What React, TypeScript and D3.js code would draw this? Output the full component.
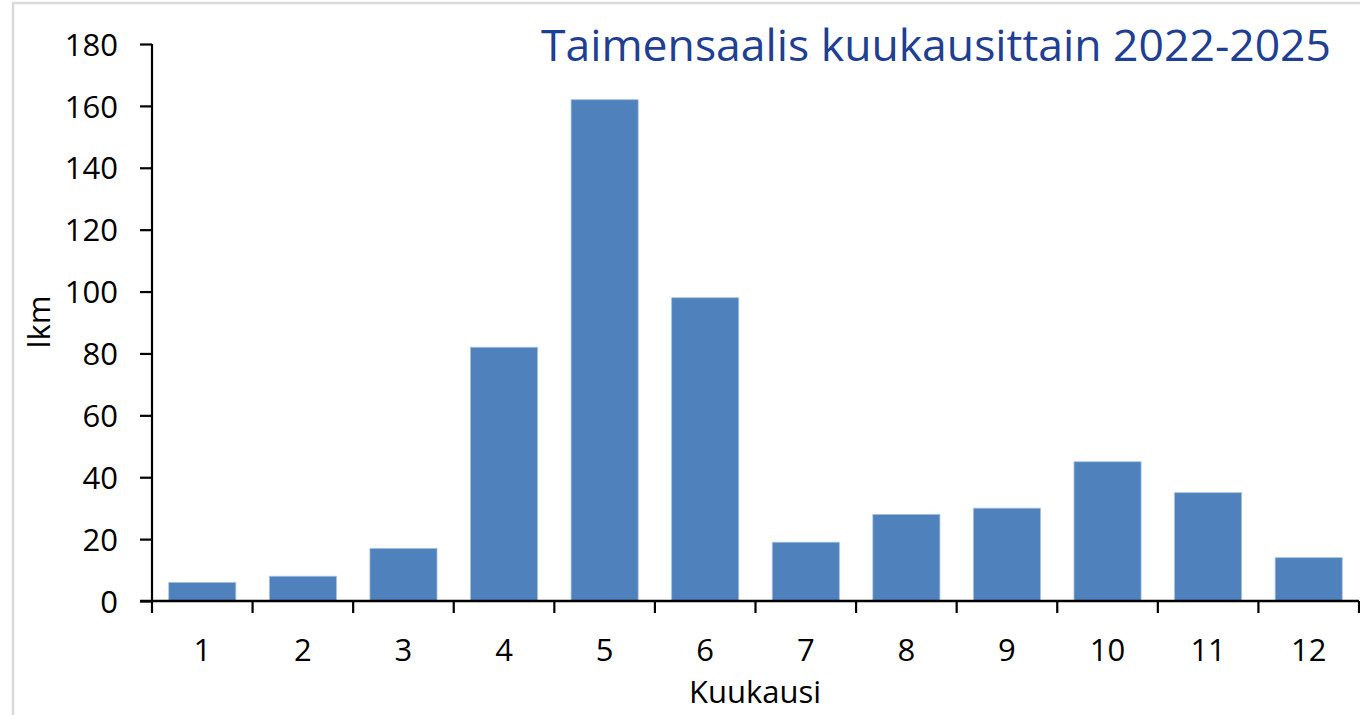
import React, { useEffect, useRef } from "react";
import * as d3 from "d3";

const months = ["1", "2", "3", "4", "5", "6", "7", "8", "9", "10", "11", "12"];
const catch_ = [6, 8, 17, 82, 162, 98, 19, 28, 30, 45, 35, 14];
const yTicks = [0, 20, 40, 60, 80, 100, 120, 140, 160, 180];

const App = () => {
  const ref = useRef<SVGSVGElement>(null);

  useEffect(() => {
    const width = 1360,
      height = 715,
      left = 152,
      right = 1359,
      top = 44,
      bottom = 601,
      font = "'Open Sans', sans-serif";

    const svg = d3.select(ref.current);
    svg.selectAll("*").remove();

    // chart area border
    svg
      .append("rect")
      .attr("x", 13)
      .attr("y", 3)
      .attr("width", width + 10)
      .attr("height", height + 10)
      .attr("fill", "white")
      .attr("stroke", "#d9d9d9")
      .attr("stroke-width", 2.5);

    const x = d3.scaleBand().domain(months).range([left, right]).paddingInner(0.333).paddingOuter(0.1665);
    const y = d3.scaleLinear().domain([0, 180]).range([bottom, top]);

    svg
      .selectAll("rect.bar")
      .data(catch_)
      .enter()
      .append("rect")
      .attr("class", "bar")
      .attr("x", (d, i) => x(months[i]))
      .attr("y", d => y(d))
      .attr("width", x.bandwidth())
      .attr("height", d => y(0) - y(d))
      .attr("fill", "#4f81bd")
      .attr("stroke", "#a7c0e0")
      .attr("stroke-width", 0.8);

    // y axis
    const yAxis = d3.axisLeft(y).tickValues(yTicks).tickSize(12).tickPadding(22);
    const gy = svg.append("g").attr("transform", `translate(${left},0)`).call(yAxis);
    gy.select(".domain").attr("stroke", "#000").attr("stroke-width", 2.2).attr("d", `M0,${top}V${bottom}`);
    gy.selectAll(".tick line").attr("stroke", "#000").attr("stroke-width", 2.2);
    gy.selectAll(".tick text")
      .attr("font-family", font)
      .attr("font-size", 31)
      .attr("fill", "#000")
      .attr("dy", "0.36em");

    // x axis
    const step = x.step();
    const bounds = d3.range(13).map(i => left + i * step);
    const gx = svg.append("g");
    gx.append("path")
      .attr("d", `M${left - 12},${bottom}H${right}`)
      .attr("stroke", "#000")
      .attr("stroke-width", 2.6);
    gx.selectAll("line.xt")
      .data(bounds)
      .enter()
      .append("line")
      .attr("class", "xt")
      .attr("x1", d => d)
      .attr("x2", d => d)
      .attr("y1", bottom)
      .attr("y2", bottom + 12)
      .attr("stroke", "#000")
      .attr("stroke-width", 2.2);
    gx.selectAll("text.xl")
      .data(months)
      .enter()
      .append("text")
      .attr("class", "xl")
      .attr("x", d => x(d)! + x.bandwidth() / 2)
      .attr("y", 661)
      .attr("text-anchor", "middle")
      .attr("font-family", font)
      .attr("font-size", 31)
      .attr("fill", "#000")
      .text(d => d);

    svg
      .append("text")
      .attr("x", 755)
      .attr("y", 703)
      .attr("text-anchor", "middle")
      .attr("font-family", font)
      .attr("font-size", 31)
      .attr("fill", "#000")
      .text("Kuukausi");

    svg
      .append("text")
      .attr("transform", "translate(50,322) rotate(-90)")
      .attr("text-anchor", "middle")
      .attr("font-family", font)
      .attr("font-size", 31)
      .attr("fill", "#000")
      .text("lkm");

    svg
      .append("text")
      .attr("x", 1331)
      .attr("y", 61)
      .attr("text-anchor", "end")
      .attr("font-family", font)
      .attr("font-size", 44.5)
      .attr("fill", "#1f3f93")
      .text("Taimensaalis kuukausittain 2022-2025");
  }, []);

  return (
    <svg
      ref={ref}
      width={1360}
      height={715}
      style={{ position: "absolute", left: 0, top: 0, background: "white" }}
    />
  );
};

export default App;
